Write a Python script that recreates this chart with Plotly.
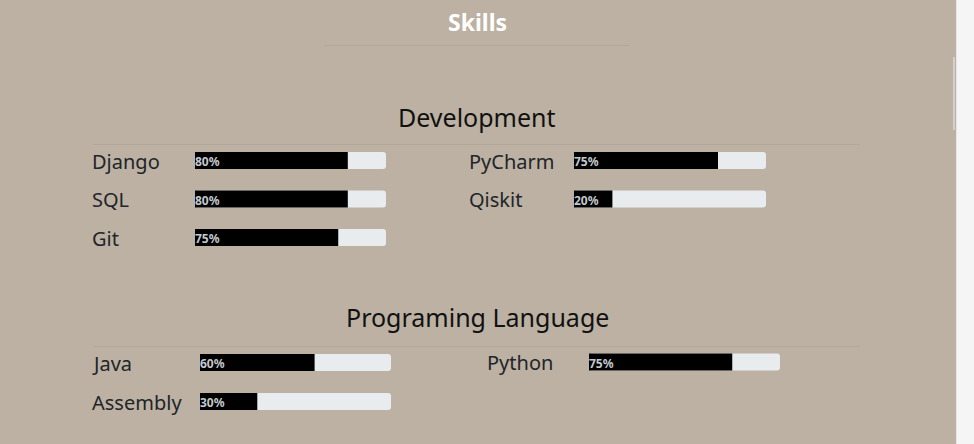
import plotly.graph_objects as go

W, H = 974, 444

# ---- data ----
page_title = "Skills"
section_titles = ["Development", "Programing Language"]

dev_left_skills = ["Django", "SQL", "Git"]
dev_left_values = [80, 80, 75]
dev_right_skills = ["PyCharm", "Qiskit"]
dev_right_values = [75, 20]
lang_left_skills = ["Java", "Assembly"]
lang_left_values = [60, 30]
lang_right_skills = ["Python"]
lang_right_values = [75]

# ---- layout (pixel positions, separate from data) ----
groups = [
    dict(skills=dev_left_skills, values=dev_left_values, label_x=93, x0=195, x1=386, y0=160.5, gap=38.5),
    dict(skills=dev_right_skills, values=dev_right_values, label_x=470, x0=574, x1=766, y0=160.5, gap=38.5),
    dict(skills=lang_left_skills, values=lang_left_values, label_x=93, x0=200, x1=391, y0=362.5, gap=39),
    dict(skills=lang_right_skills, values=lang_right_values, label_x=488, x0=589, x1=780, y0=362, gap=39),
]
section_y = [117, 317]
section_line_y = [144, 346]

BG = "#BCB1A3"
TRACK = "#E9ECEF"
LINE = "#B2A798"
FONT = "Noto Sans"

fig = go.Figure()
annotations = []
layout_axes = {}

for i, g in enumerate(groups):
    ax = f"x{i+2}"
    axname = f"xaxis{i+2}"
    layout_axes[axname] = dict(domain=[g["x0"] / W, g["x1"] / W], range=[0, 100],
                               visible=False, anchor="y", fixedrange=True)
    ys = [g["y0"] + k * g["gap"] for k in range(len(g["skills"]))]
    fig.add_trace(go.Bar(x=[100] * len(ys), y=ys, base=[0] * len(ys), orientation="h",
                         width=17, marker=dict(color=TRACK, cornerradius=3, line=dict(width=0)),
                         xaxis=ax, yaxis="y", hoverinfo="skip", showlegend=False))
    fig.add_trace(go.Bar(x=g["values"], y=ys, orientation="h",
                         width=17, marker=dict(color="#000000", line=dict(width=0)),
                         xaxis=ax, yaxis="y", hoverinfo="skip", showlegend=False))
    for name, v, y in zip(g["skills"], g["values"], ys):
        annotations.append(dict(xref="x", yref="y", x=g["label_x"], y=y + 0.5, text=name,
                                xanchor="left", yanchor="middle", showarrow=False, xshift=-3,
                                font=dict(family=FONT, size=20, color="#212529")))
        annotations.append(dict(xref=ax, yref="y", x=0, y=y + 1, text=f"<b>{v}%</b>",
                                xanchor="left", yanchor="middle", showarrow=False, xshift=-2,
                                font=dict(family=FONT, size=12, color="#C3C8CE")))

annotations.append(dict(xref="x", yref="y", x=477, y=22, text=f"<b>{page_title}</b>",
                        xanchor="center", yanchor="middle", showarrow=False,
                        font=dict(family=FONT, size=23, color="#FFFFFF")))
for t, y in zip(section_titles, section_y):
    annotations.append(dict(xref="x", yref="y", x=477, y=y, text=t,
                            xanchor="center", yanchor="middle", showarrow=False,
                            font=dict(family=FONT, size=25, color="#111111")))

shapes = [
    dict(type="rect", xref="paper", yref="paper", x0=0, x1=956 / W, y0=0, y1=1,
         fillcolor=BG, line=dict(width=0), layer="below"),
    dict(type="line", xref="x", yref="y", x0=956.5, x1=956.5, y0=0, y1=H,
         line=dict(color="#E6E6E6", width=1)),
    dict(type="rect", xref="x", yref="y", x0=953, x1=955, y0=57, y1=130,
         fillcolor="#D3D0CC", line=dict(width=0)),
    dict(type="line", xref="x", yref="y", x0=324, x1=629, y0=45.5, y1=45.5,
         line=dict(color=LINE, width=1)),
]
for y in section_line_y:
    shapes.append(dict(type="line", xref="x", yref="y", x0=93, x1=860, y0=y + 0.5, y1=y + 0.5,
                       line=dict(color=LINE, width=1)))

fig.update_layout(
    width=W, height=H, margin=dict(l=0, r=0, t=0, b=0),
    paper_bgcolor="#F5F5F5", plot_bgcolor="rgba(0,0,0,0)",
    barmode="overlay", showlegend=False,
    xaxis=dict(range=[0, W], visible=False, fixedrange=True, domain=[0, 1]),
    yaxis=dict(range=[H, 0], visible=False, fixedrange=True, domain=[0, 1]),
    annotations=annotations, shapes=shapes,
    **layout_axes,
)

fig.write_html("out.html", config=dict(displayModeBar=False, staticPlot=True))
